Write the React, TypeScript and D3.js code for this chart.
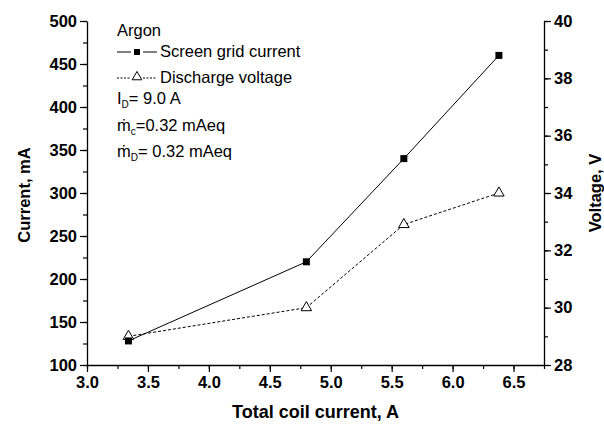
import React, { useEffect, useRef } from 'react';
import * as d3 from 'd3';

// coil current (A)
const coilCurrent = [3.34, 4.8, 5.6, 6.38];
// screen grid current (mA), left axis
const gridCurrent = [128, 220, 340, 460];
// discharge voltage (V), right axis
const dischargeVoltage = [29.0, 30.0, 32.9, 34.0];

const xTicks = [3.0, 3.5, 4.0, 4.5, 5.0, 5.5, 6.0, 6.5];
const yLeftTicks = [100, 150, 200, 250, 300, 350, 400, 450, 500];
const yRightTicks = [28, 30, 32, 34, 36, 38, 40];

const FONT = 'Arial, "Liberation Sans", sans-serif';

const App: React.FC = () => {
  const ref = useRef<SVGSVGElement | null>(null);

  useEffect(() => {
    if (!ref.current) return;
    const svg = d3.select(ref.current);
    svg.selectAll('*').remove();

    const margin = { top: 21, right: 60, bottom: 63, left: 87 };
    const width = 604 - margin.left - margin.right;
    const height = 428 - margin.top - margin.bottom;

    const x = d3.scaleLinear().domain([3.0, 6.75]).range([0, width]);
    const yL = d3.scaleLinear().domain([100, 500]).range([height, 0]);
    const yR = d3.scaleLinear().domain([28, 40]).range([height, 0]);

    const g = svg.append('g').attr('transform', `translate(${margin.left},${margin.top})`);

    const styleAxis = (sel: d3.Selection<SVGGElement, unknown, null, undefined>) => {
      sel.select('.domain').attr('stroke', '#000').attr('stroke-width', 1.3);
      sel.selectAll('line').attr('stroke', '#000').attr('stroke-width', 1.2);
      sel.selectAll('text')
        .attr('font-family', FONT)
        .attr('font-size', 16.5)
        .attr('font-weight', 'bold')
        .attr('fill', '#000');
    };

    // minor ticks
    const minorX = d3.range(3.0, 6.76, 0.25);
    const minorL = d3.range(100, 501, 25);
    const minorR = d3.range(28, 41, 1);

    g.append('g')
      .attr('transform', `translate(0,${height})`)
      .call(d3.axisBottom(x).tickValues(minorX).tickFormat(() => '').tickSize(4).tickSizeOuter(0))
      .call(sel => sel.select('.domain').remove())
      .selectAll('line').attr('stroke', '#000').attr('stroke-width', 1.2);
    g.append('g')
      .call(d3.axisLeft(yL).tickValues(minorL).tickFormat(() => '').tickSize(4).tickSizeOuter(0))
      .call(sel => sel.select('.domain').remove())
      .selectAll('line').attr('stroke', '#000').attr('stroke-width', 1.2);
    g.append('g')
      .attr('transform', `translate(${width},0)`)
      .call(d3.axisRight(yR).tickValues(minorR).tickFormat(() => '').tickSize(4).tickSizeOuter(0))
      .call(sel => sel.select('.domain').remove())
      .selectAll('line').attr('stroke', '#000').attr('stroke-width', 1.2);

    // major axes
    g.append('g')
      .attr('transform', `translate(0,${height})`)
      .call(d3.axisBottom(x).tickValues(xTicks).tickFormat(d3.format('.1f')).tickSize(7).tickSizeOuter(0).tickPadding(4))
      .call(styleAxis);
    g.append('g')
      .call(d3.axisLeft(yL).tickValues(yLeftTicks).tickSize(7).tickSizeOuter(0).tickPadding(3))
      .call(styleAxis);
    g.append('g')
      .attr('transform', `translate(${width},0)`)
      .call(d3.axisRight(yR).tickValues(yRightTicks).tickSize(7).tickSizeOuter(0).tickPadding(3))
      .call(styleAxis);

    // axis titles
    g.append('text')
      .attr('x', width / 2)
      .attr('y', height + 53)
      .attr('text-anchor', 'middle')
      .attr('font-family', FONT)
      .attr('font-size', 18)
      .attr('font-weight', 'bold')
      .text('Total coil current, A');
    g.append('text')
      .attr('transform', `translate(${-57},${height / 2 + 2}) rotate(-90)`)
      .attr('text-anchor', 'middle')
      .attr('font-family', FONT)
      .attr('font-size', 16.5)
      .attr('font-weight', 'bold')
      .text('Current, mA');
    g.append('text')
      .attr('transform', `translate(${width + 57},${height / 2}) rotate(-90)`)
      .attr('text-anchor', 'middle')
      .attr('font-family', FONT)
      .attr('font-size', 16.5)
      .attr('font-weight', 'bold')
      .text('Voltage, V');

    const idx = d3.range(coilCurrent.length);

    const lineV = d3.line<number>().x(i => x(coilCurrent[i])).y(i => yR(dischargeVoltage[i]));
    const lineC = d3.line<number>().x(i => x(coilCurrent[i])).y(i => yL(gridCurrent[i]));

    g.append('path')
      .datum(idx)
      .attr('fill', 'none')
      .attr('stroke', '#000')
      .attr('stroke-width', 1)
      .attr('stroke-dasharray', '3,2')
      .attr('d', lineV);
    g.append('path')
      .datum(idx)
      .attr('fill', 'none')
      .attr('stroke', '#000')
      .attr('stroke-width', 1)
      .attr('d', lineC);

    const tri = d3.symbol().type(d3.symbolTriangle).size(48);
    const sq = d3.symbol().type(d3.symbolSquare).size(49);

    g.selectAll('.tri')
      .data(idx)
      .enter()
      .append('path')
      .attr('class', 'tri')
      .attr('transform', i => `translate(${x(coilCurrent[i])},${yR(dischargeVoltage[i])})`)
      .attr('d', tri)
      .attr('fill', '#fff')
      .attr('stroke', '#000')
      .attr('stroke-width', 1);
    g.selectAll('.sq')
      .data(idx)
      .enter()
      .append('path')
      .attr('class', 'sq')
      .attr('transform', i => `translate(${x(coilCurrent[i])},${yL(gridCurrent[i])})`)
      .attr('d', sq)
      .attr('fill', '#000');

    // legend / annotations
    const lg = svg.append('g');
    const fs = 16.5;
    const tx = 117;
    const addText = (y: number) =>
      lg.append('text').attr('x', tx).attr('y', y).attr('font-family', FONT).attr('font-size', fs).attr('fill', '#000');

    addText(36).text('Argon');

    lg.append('line').attr('x1', 117).attr('x2', 157).attr('y1', 52).attr('y2', 52)
      .attr('stroke', '#000').attr('stroke-width', 1).attr('stroke-dasharray', '14,12');
    lg.append('path').attr('transform', 'translate(137,52)').attr('d', d3.symbol().type(d3.symbolSquare).size(36)).attr('fill', '#000');
    lg.append('text').attr('x', 160).attr('y', 57).attr('font-family', FONT).attr('font-size', fs).text('Screen grid current');

    lg.append('line').attr('x1', 117).attr('x2', 131).attr('y1', 78).attr('y2', 78)
      .attr('stroke', '#000').attr('stroke-width', 1).attr('stroke-dasharray', '2,1.5');
    lg.append('line').attr('x1', 143).attr('x2', 157).attr('y1', 78).attr('y2', 78)
      .attr('stroke', '#000').attr('stroke-width', 1).attr('stroke-dasharray', '2,1.5');
    lg.append('path').attr('transform', 'translate(137,77)').attr('d', d3.symbol().type(d3.symbolTriangle).size(40))
      .attr('fill', '#fff').attr('stroke', '#000').attr('stroke-width', 1);
    lg.append('text').attr('x', 160).attr('y', 83).attr('font-family', FONT).attr('font-size', fs).text('Discharge voltage');

    const t1 = addText(104);
    t1.append('tspan').text('I');
    t1.append('tspan').attr('font-size', 10).attr('dy', 4).text('D');
    t1.append('tspan').attr('dy', -4).text('= 9.0 A');

    const t2 = addText(131);
    t2.append('tspan').text('ṁ');
    t2.append('tspan').attr('font-size', 10).attr('dy', 4).text('c');
    t2.append('tspan').attr('dy', -4).text('=0.32 mAeq');

    const t3 = addText(157);
    t3.append('tspan').text('ṁ');
    t3.append('tspan').attr('font-size', 10).attr('dy', 4).text('D');
    t3.append('tspan').attr('dy', -4).text('= 0.32 mAeq');
  }, []);

  return <svg ref={ref} width={604} height={428} style={{ position: 'absolute', left: 0, top: 0, background: '#fff' }} />;
};

export default App;
